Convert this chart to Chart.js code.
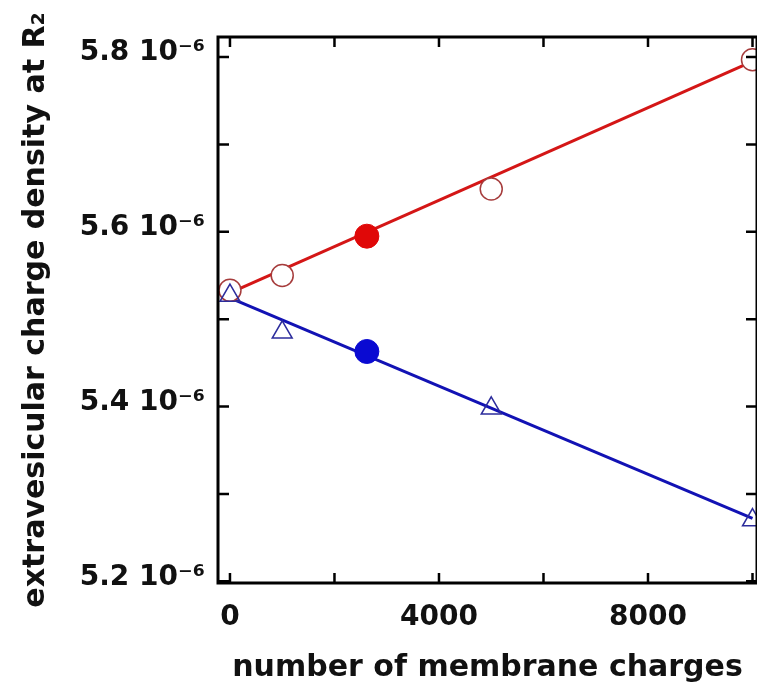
<!DOCTYPE html>
<html>
<head>
<meta charset="utf-8">
<script src="https://cdn.jsdelivr.net/npm/chart.js@4.4.0/dist/chart.umd.min.js"></script>
<style>
    html, body { margin: 0; padding: 0; background: #fff; overflow: hidden; }
    #wrap { width: 770px; height: 686px; }
</style>
</head>
<body>
<div id="wrap"><canvas id="chart" width="770" height="686"></canvas></div>
<script>
// values in units of 10^-6
var charges = [0, 1000, 5000, 10000];
var redOpen = [5.533, 5.550, 5.649, 5.797];
var blueOpen = [5.527, 5.485, 5.398, 5.270];
var filledCharge = [2620];
var redFilled = [5.595];
var blueFilled = [5.463];
var redFitX = [0, 10000];
var redFit = [5.530, 5.795];
var blueFitX = [-229, 10000];
var blueFit = [5.530, 5.272];
var xTicks = [0, 2000, 4000, 6000, 8000, 10000];
var xLabels = [0, 4000, 8000];
var yTicks = [5.2, 5.3, 5.4, 5.5, 5.6, 5.7, 5.8];
var yLabels = [5.2, 5.4, 5.6, 5.8];

function pts(xs, ys) {
    return xs.map(function (x, i) { return { x: x, y: ys[i] }; });
}

var tickFont = { family: 'DejaVu Sans', weight: 'bold', size: 28 };
var titleFont = { family: 'DejaVu Sans', weight: 'bold', size: 30 };

var framePlugin = {
    id: 'frame',
    afterDraw: function (chart) {
        var ctx = chart.ctx;
        var a = chart.chartArea;
        var xs = chart.scales.x, ys = chart.scales.y;
        ctx.save();
        ctx.strokeStyle = '#000';
        ctx.lineWidth = 3;
        ctx.beginPath();
        ctx.rect(a.left, a.top, a.right - a.left, a.bottom - a.top);
        ctx.stroke();
        ctx.lineWidth = 2.5;
        ctx.beginPath();
        xs.ticks.forEach(function (t) {
            var p = xs.getPixelForValue(t.value);
            ctx.moveTo(p, a.bottom); ctx.lineTo(p, a.bottom - 10);
            ctx.moveTo(p, a.top); ctx.lineTo(p, a.top + 10);
        });
        ys.ticks.forEach(function (t) {
            var p = ys.getPixelForValue(t.value);
            ctx.moveTo(a.left, p); ctx.lineTo(a.left + 11, p);
            ctx.moveTo(a.right, p); ctx.lineTo(a.right - 11, p);
        });
        ctx.stroke();
        ctx.restore();
    }
};

var chart = new Chart(document.getElementById('chart').getContext('2d'), {
    type: 'scatter',
    data: {
        datasets: [
            {
                data: pts(redFitX, redFit), showLine: true, pointRadius: 0,
                borderColor: '#d41616', borderWidth: 3, order: 6
            },
            {
                data: pts(blueFitX, blueFit), showLine: true, pointRadius: 0,
                borderColor: '#1212b4', borderWidth: 3, order: 5
            },
            {
                data: pts(charges, redOpen), pointStyle: 'circle', pointRadius: 11,
                backgroundColor: '#fff', borderColor: '#a63c3c', borderWidth: 1.5, order: 3
            },
            {
                data: pts(charges, blueOpen), pointStyle: 'triangle', pointRadius: 11.5,
                backgroundColor: 'rgba(0,0,0,0)', borderColor: '#2c2c9c', borderWidth: 1.5, order: 1
            },
            {
                data: pts(filledCharge, redFilled), pointStyle: 'circle', pointRadius: 12,
                backgroundColor: '#e00808', borderColor: '#e00808', borderWidth: 1, order: 2
            },
            {
                data: pts(filledCharge, blueFilled), pointStyle: 'circle', pointRadius: 12,
                backgroundColor: '#0a0ad2', borderColor: '#0a0ad2', borderWidth: 1, order: 2
            }
        ]
    },
    options: {
        responsive: false,
        animation: false,
        clip: false,
        layout: { padding: { left: 0, top: 37, right: 0, bottom: 0 } },
        plugins: { legend: { display: false }, tooltip: { enabled: false } },
        elements: { line: { tension: 0 } },
        scales: {
            x: {
                type: 'linear', min: -229, max: 10086,
                grid: { display: false }, border: { display: false },
                afterBuildTicks: function (s) {
                    s.ticks = xTicks.map(function (v) { return { value: v }; });
                },
                ticks: {
                    autoSkip: false, maxRotation: 0,
                    padding: 10, color: '#111', font: tickFont,
                    callback: function (v) { return xLabels.indexOf(v) >= 0 ? String(v) : ''; }
                },
                title: {
                    display: true, text: 'number of membrane charges', color: '#111', font: titleFont,
                    padding: { top: 10, bottom: 0 }
                },
                afterFit: function (s) { s.height = 103; }
            },
            y: {
                type: 'linear', min: 5.198, max: 5.823,
                grid: { display: false }, border: { display: false },
                afterBuildTicks: function (s) {
                    s.ticks = yTicks.map(function (v) { return { value: v }; });
                },
                ticks: {
                    autoSkip: false,
                    padding: 5, labelOffset: -4, color: '#111', font: tickFont,
                    callback: function (v) {
                        var r = Math.round(v * 10) / 10;
                        return yLabels.indexOf(r) >= 0 ? r.toFixed(1) + ' 10\u207B\u2076' : '';
                    }
                },
                title: {
                    display: true, text: 'extravesicular charge density at R\u2082', color: '#111', font: titleFont,
                    padding: { top: 18, bottom: 0 }
                },
                afterFit: function (s) { s.width = 218; }
            }
        }
    },
    plugins: [framePlugin]
});
</script>
</body>
</html>
